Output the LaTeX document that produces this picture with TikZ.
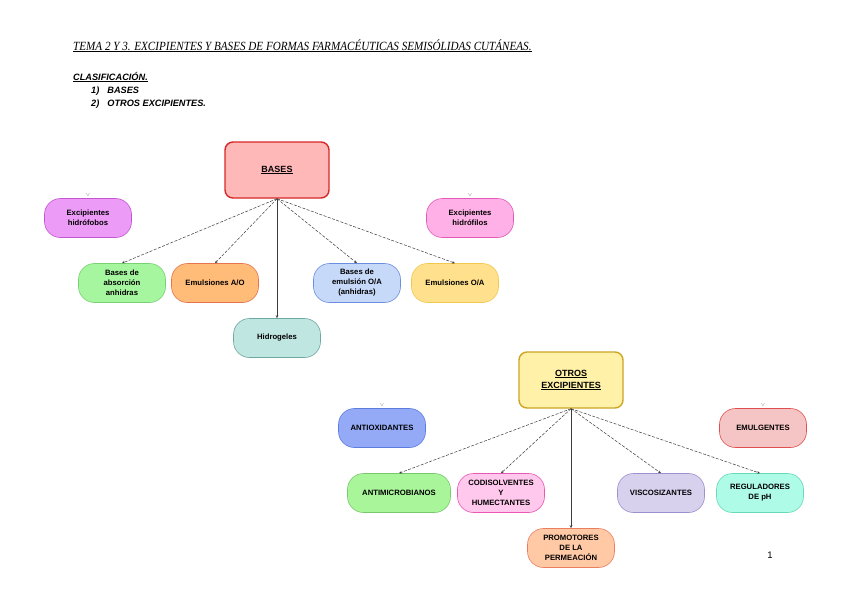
\documentclass[tikz,border=0pt]{standalone}
\usepackage{fontspec}
\setmainfont{Liberation Sans}
\newfontfamily\titlefont{Liberation Serif}
\usepackage{xcolor}
\usepackage{tikz}
\usetikzlibrary{arrows.meta, positioning}
\definecolor{basered}{RGB}{255,184,184}
\definecolor{baseredline}{RGB}{214,40,40}
\definecolor{otrosyellow}{RGB}{255,241,168}
\definecolor{otrosyellowline}{RGB}{205,165,40}
\definecolor{hfobviolet}{RGB}{236,156,246}
\definecolor{hfobvioletline}{RGB}{196,84,212}
\definecolor{hfilpink}{RGB}{255,176,230}
\definecolor{hfilpinkline}{RGB}{226,90,184}
\definecolor{absgreen}{RGB}{165,246,158}
\definecolor{absgreenline}{RGB}{122,208,116}
\definecolor{aoorange}{RGB}{255,187,120}
\definecolor{aoorangeline}{RGB}{228,116,78}
\definecolor{hidroteal}{RGB}{192,230,226}
\definecolor{hidrotealline}{RGB}{110,168,162}
\definecolor{oablue}{RGB}{198,217,248}
\definecolor{oablueline}{RGB}{108,142,224}
\definecolor{oayellow}{RGB}{255,224,140}
\definecolor{oayellowline}{RGB}{240,200,80}
\definecolor{antiblue}{RGB}{148,170,246}
\definecolor{antiblueline}{RGB}{92,124,224}
\definecolor{microgreen}{RGB}{168,245,154}
\definecolor{microgreenline}{RGB}{122,200,110}
\definecolor{codipink}{RGB}{255,200,236}
\definecolor{codipinkline}{RGB}{236,86,180}
\definecolor{promopeach}{RGB}{255,201,166}
\definecolor{promopeachline}{RGB}{236,126,96}
\definecolor{viscolav}{RGB}{216,209,238}
\definecolor{viscolavline}{RGB}{156,143,207}
\definecolor{regmint}{RGB}{174,251,232}
\definecolor{regmintline}{RGB}{102,217,184}
\definecolor{emulrose}{RGB}{245,196,196}
\definecolor{emulroseline}{RGB}{224,80,80}
\definecolor{linkgray}{RGB}{60,60,60}

\begin{document}
\begin{tikzpicture}[
    x=1pt, y=-1pt,
    rootbox/.style={rectangle, rounded corners=8pt, line width=1.4pt, align=center, font=\fontsize{9}{12}\selectfont\bfseries, minimum width=104pt, minimum height=56pt},
    pill/.style={rectangle, rounded corners=16pt, line width=0.6pt, align=center, font=\fontsize{7.7}{10}\selectfont\bfseries, minimum width=87pt, minimum height=39pt, inner sep=1pt},
    chevron/.style={font=\fontsize{4}{4}\selectfont, text=gray!80!black, inner sep=0pt},
    heading/.style={anchor=base west, inner sep=0pt, font=\fontsize{9.2}{10}\selectfont\bfseries\itshape},
    link/.style={-{Stealth[length=3pt, width=2.5pt]}, linkgray, line width=0.5pt, dash pattern=on 3pt off 1.5pt},
    stem/.style={-{Stealth[length=3pt, width=2.5pt]}, linkgray, line width=0.6pt}
]
\useasboundingbox[fill=white] (0,0) rectangle (848,600);

% heading
\node[anchor=base west, inner sep=0pt] (title) at (73,50)
  {\scalebox{0.89}[1]{\titlefont\itshape\fontsize{12.5}{13}\selectfont\underline{TEMA 2 Y 3. EXCIPIENTES Y BASES DE FORMAS FARMACÉUTICAS SEMISÓLIDAS CUTÁNEAS.}}};
\node[heading] (clasif) at (73,80) {\underline{CLASIFICACIÓN.}};
\node[heading] (item1) at (91,93) {1)\hspace{8pt}BASES};
\node[heading] (item2) at (91,106) {2)\hspace{8pt}OTROS EXCIPIENTES.};

% bases
\node[rootbox, fill=basered, draw=baseredline] (bases) at (277,170) {\underline{BASES}};
\node[pill, fill=hfobviolet, draw=hfobvioletline] (hidrofobos) at (88,218) {Excipientes\\hidrófobos};
\node[pill, fill=hfilpink, draw=hfilpinkline] (hidrofilos) at (470,218) {Excipientes\\hidrófilos};
\node[pill, fill=absgreen, draw=absgreenline] (absorcion) at (122,283) {Bases de\\absorción\\anhidras};
\node[pill, fill=aoorange, draw=aoorangeline] (emulao) at (215,283) {Emulsiones A/O};
\node[pill, fill=hidroteal, draw=hidrotealline] (hidrogeles) at (277,338) {Hidrogeles};
\node[pill, fill=oablue, draw=oablueline] (baseoa) at (357,283) {Bases de\\emulsión O/A\\(anhidras)};
\node[pill, fill=oayellow, draw=oayellowline] (emuloa) at (455,283) {Emulsiones O/A};
\node[chevron, above=2pt of hidrofobos] (markfob) {$\vee$};
\node[chevron, above=2pt of hidrofilos] (markfil) {$\vee$};

% otros excipientes
\node[rootbox, fill=otrosyellow, draw=otrosyellowline] (otros) at (571,380) {\underline{OTROS}\\\underline{EXCIPIENTES}};
\node[pill, fill=antiblue, draw=antiblueline] (antiox) at (382,428) {ANTIOXIDANTES};
\node[pill, fill=emulrose, draw=emulroseline] (emulg) at (763,428) {EMULGENTES};
\node[pill, fill=microgreen, draw=microgreenline, minimum width=103pt] (antimicro) at (399,493) {ANTIMICROBIANOS};
\node[pill, fill=codipink, draw=codipinkline] (codisol) at (501,493) {CODISOLVENTES\\Y\\HUMECTANTES};
\node[pill, fill=promopeach, draw=promopeachline] (promot) at (571,548) {PROMOTORES\\DE LA\\PERMEACIÓN};
\node[pill, fill=viscolav, draw=viscolavline] (viscos) at (661,493) {VISCOSIZANTES};
\node[pill, fill=regmint, draw=regmintline] (regul) at (760,493) {REGULADORES\\DE pH};
\node[chevron, above=2pt of antiox] (markanti) {$\vee$};
\node[chevron, above=2pt of emulg] (markemul) {$\vee$};

\node[font=\fontsize{9.5}{10}\selectfont] (pagenum) at (770,555) {1};

\draw[link] (bases.south) -- (absorcion.north);
\draw[link] (bases.south) -- (emulao.north);
\draw[stem] (bases.south) -- (hidrogeles.north);
\draw[link] (bases.south) -- (baseoa.north);
\draw[link] (bases.south) -- (emuloa.north);

\draw[link] (otros.south) -- (antimicro.north);
\draw[link] (otros.south) -- (codisol.north);
\draw[stem] (otros.south) -- (promot.north);
\draw[link] (otros.south) -- (viscos.north);
\draw[link] (otros.south) -- (regul.north);
\end{tikzpicture}
\end{document}
